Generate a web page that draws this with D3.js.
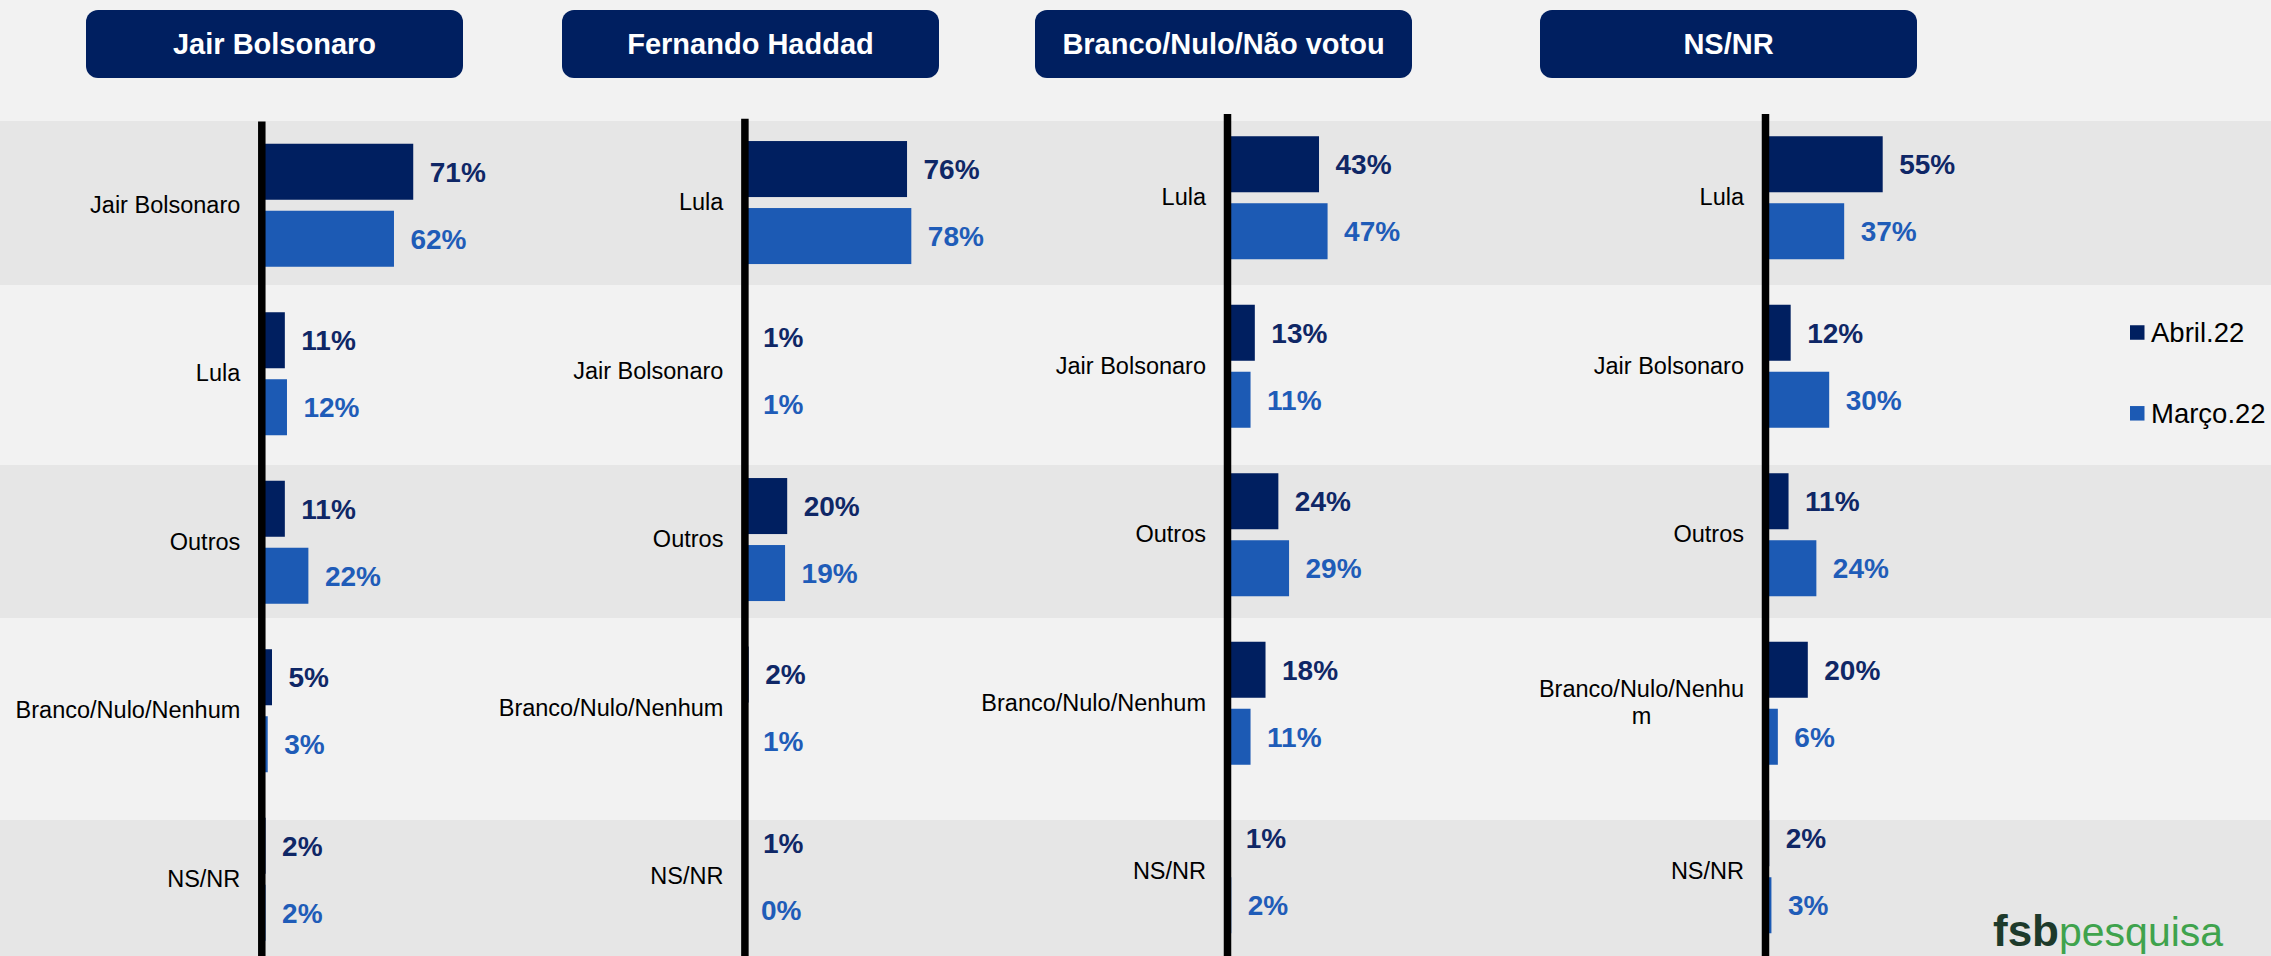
<!DOCTYPE html>
<html lang="pt-BR">
<head>
<meta charset="utf-8">
<title>Voto 2018 x intenção de voto</title>
<script src="https://cdn.jsdelivr.net/npm/d3@7"></script>
<style>
  html, body { margin: 0; padding: 0; background: #f2f2f2; }
  svg { display: block; font-family: "Liberation Sans", Arial, sans-serif; }
</style>
</head>
<body>
<svg id="chart" width="2271" height="956"></svg>
<script>
// ---- data ----
const seriesNames = ["Abril.22", "Março.22"];
const panelTitles = ["Jair Bolsonaro", "Fernando Haddad", "Branco/Nulo/Não votou", "NS/NR"];

const categoriesBolsonaro = ["Jair Bolsonaro", "Lula", "Outros", "Branco/Nulo/Nenhum", "NS/NR"];
const abrilBolsonaro = [71, 11, 11, 5, 2];
const marcoBolsonaro = [62, 12, 22, 3, 2];

const categoriesHaddad = ["Lula", "Jair Bolsonaro", "Outros", "Branco/Nulo/Nenhum", "NS/NR"];
const abrilHaddad = [76, 1, 20, 2, 1];
const marcoHaddad = [78, 1, 19, 1, 0];

const categoriesBranco = ["Lula", "Jair Bolsonaro", "Outros", "Branco/Nulo/Nenhum", "NS/NR"];
const abrilBranco = [43, 13, 24, 18, 1];
const marcoBranco = [47, 11, 29, 11, 2];

const categoriesNsnr = ["Lula", "Jair Bolsonaro", "Outros", "Branco/Nulo/Nenhum", "NS/NR"];
const abrilNsnr = [55, 12, 11, 20, 2];
const marcoNsnr = [37, 30, 24, 6, 3];

const panels = [
  { title: panelTitles[0], cats: categoriesBolsonaro, values: [abrilBolsonaro, marcoBolsonaro] },
  { title: panelTitles[1], cats: categoriesHaddad,    values: [abrilHaddad, marcoHaddad] },
  { title: panelTitles[2], cats: categoriesBranco,    values: [abrilBranco, marcoBranco] },
  { title: panelTitles[3], cats: categoriesNsnr,      values: [abrilNsnr, marcoNsnr] }
];

// ---- layout ----
const W = 2271, H = 956;
const barColors   = ["#001f60", "#1c5ab4"];
const labelColors = ["#0f2766", "#1f5cb8"];
const stripeRanges = [[121, 285], [465, 618], [820, 956]];
const boxLeft  = [86, 562, 1035, 1540];
const boxWidth = 377, boxTop = 10, boxHeight = 68;
const axisX    = [261.3, 744.4, 1227, 1765];
const axisTop  = [121, 118.3, 113.5, 113.5];
const labelMax = [250, 250, 250, 215];
const rowStep  = 168.5;

const svg = d3.select("#chart");

// background and alternating row stripes
svg.append("rect").attr("width", W).attr("height", H).attr("fill", "#f2f2f2");
svg.append("g").selectAll("rect").data(stripeRanges).join("rect")
  .attr("x", 0).attr("width", W)
  .attr("y", d => d[0]).attr("height", d => d[1] - d[0])
  .attr("fill", "#e6e6e6");

const x = d3.scaleLinear().domain([0, 100]).range([0, 214]);

// character-level wrap of a category label, lines centred on the label block
function wrapLabel(textSel, maxW) {
  textSel.each(function () {
    const t = d3.select(this);
    const full = t.text();
    if (this.getComputedTextLength() <= maxW) return;
    const lines = [];
    let rest = full;
    while (rest.length) {
      let n = rest.length;
      t.text(rest.slice(0, n));
      while (n > 1 && this.getComputedTextLength() > maxW) {
        n--;
        t.text(rest.slice(0, n));
      }
      lines.push(rest.slice(0, n));
      rest = rest.slice(n);
    }
    t.text(null);
    const xEnd = +t.attr("x");
    const widths = lines.map(l => { t.text(l); return this.getComputedTextLength(); });
    t.text(null);
    const blockW = d3.max(widths);
    const lh = 27.4;
    t.attr("text-anchor", "middle");
    lines.forEach((l, i) => {
      t.append("tspan")
        .attr("x", xEnd - blockW / 2)
        .attr("dy", i === 0 ? (0.32 * 23.5 - (lines.length - 1) * lh / 2) + "px" : lh + "px")
        .text(l);
    });
    t.attr("dy", null);
  });
}

panels.forEach((p, pi) => {
  const y = d3.scaleBand()
    .domain(p.cats)
    .range([axisTop[pi], axisTop[pi] + p.cats.length * rowStep])
    .paddingInner(0.27)
    .paddingOuter(0.135);
  const ySub = d3.scaleBand()
    .domain(seriesNames)
    .range([0, y.bandwidth()])
    .paddingInner(0.164);

  // header box
  const head = svg.append("g");
  head.append("rect")
    .attr("x", boxLeft[pi]).attr("y", boxTop)
    .attr("width", boxWidth).attr("height", boxHeight)
    .attr("rx", 12).attr("ry", 12)
    .attr("fill", "#001f60");
  head.append("text")
    .attr("x", boxLeft[pi] + boxWidth / 2)
    .attr("y", boxTop + boxHeight / 2)
    .attr("dy", "0.35em")
    .attr("text-anchor", "middle")
    .attr("fill", "#ffffff")
    .attr("font-weight", "bold")
    .attr("font-size", 29)
    .text(p.title);

  const g = svg.append("g").attr("transform", `translate(${axisX[pi]},0)`);

  const rows = p.cats.map((c, i) => ({
    cat: c,
    items: seriesNames.map((s, si) => ({ series: s, si, value: p.values[si][i] }))
  }));

  const rowG = g.selectAll("g.row").data(rows).join("g")
    .attr("class", "row")
    .attr("transform", d => `translate(0,${y(d.cat)})`);

  rowG.selectAll("rect").data(d => d.items).join("rect")
    .attr("x", 0)
    .attr("y", d => ySub(d.series))
    .attr("width", d => x(d.value))
    .attr("height", ySub.bandwidth())
    .attr("fill", d => barColors[d.si]);

  rowG.selectAll("text.val").data(d => d.items).join("text")
    .attr("class", "val")
    .attr("x", d => x(d.value) + 16.5)
    .attr("y", d => ySub(d.series) + ySub.bandwidth() / 2)
    .attr("dy", "0.35em")
    .attr("font-size", 28)
    .attr("font-weight", "bold")
    .attr("fill", d => labelColors[d.si])
    .text(d => d.value + "%");

  // category axis drawn over the bar bases
  const axis = g.append("g")
    .call(d3.axisLeft(y).tickSize(0).tickSizeOuter(0).tickPadding(21));
  axis.select(".domain")
    .attr("stroke", "#000")
    .attr("stroke-width", 7.5);
  axis.selectAll(".tick text")
    .attr("font-family", "\"Liberation Sans\", Arial, sans-serif")
    .attr("font-size", 23.5)
    .attr("fill", "#000")
    .call(wrapLabel, labelMax[pi]);
});

// legend
const legend = svg.append("g").attr("transform", "translate(2130,0)");
const legendY = [332.5, 413.3];
seriesNames.forEach((s, i) => {
  legend.append("rect")
    .attr("x", 0).attr("y", legendY[i] - 7.25)
    .attr("width", 14.5).attr("height", 14.5)
    .attr("fill", barColors[i]);
  legend.append("text")
    .attr("x", 21).attr("y", legendY[i])
    .attr("dy", "0.35em")
    .attr("font-size", 27.5)
    .attr("fill", "#000")
    .text(s);
});

// brand mark
const brand = svg.append("text")
  .attr("x", 1993).attr("y", 946);
brand.append("tspan")
  .attr("font-size", 44).attr("font-weight", "bold").attr("fill", "#1d3a2b")
  .text("fsb");
brand.append("tspan")
  .attr("font-size", 41).attr("fill", "#3fa34d")
  .text("pesquisa");
</script>
</body>
</html>
